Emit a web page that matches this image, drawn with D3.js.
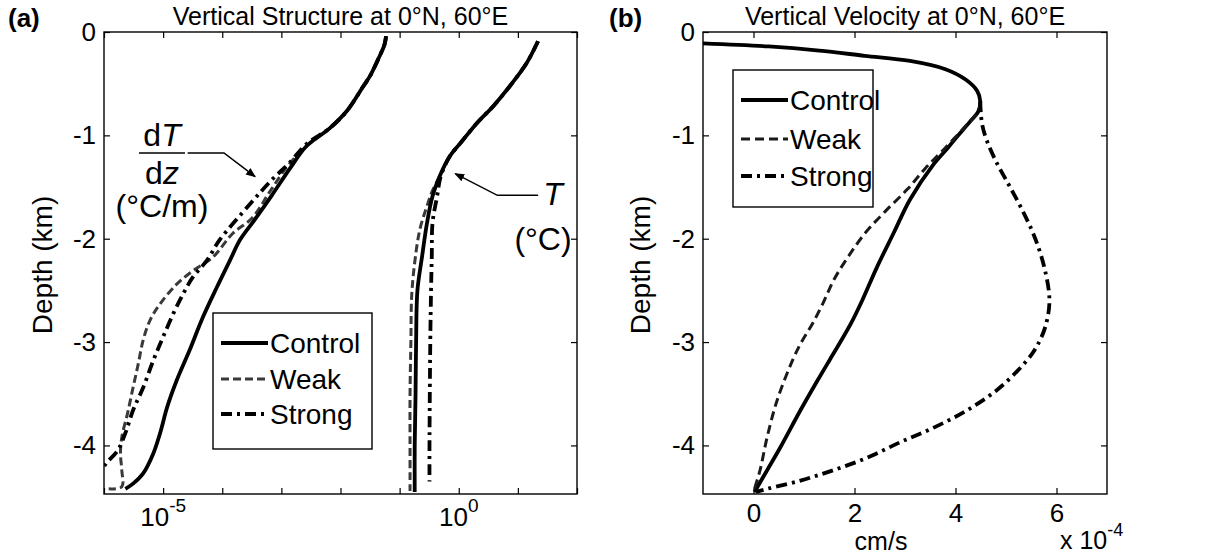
<!DOCTYPE html>
<html><head><meta charset="utf-8">
<script src="https://cdn.jsdelivr.net/npm/d3@7"></script>
<style>
body{margin:0;background:#fff}
text{font-family:"Liberation Sans",Arial,Helvetica,sans-serif;fill:#000}
</style>
</head><body>
<svg id="c" width="1217" height="554"></svg>
<script>
// ---------------- DATA ----------------
const seriesNames = ["Control", "Weak", "Strong"];
const depthTicks = [0, -1, -2, -3, -4];
const logTicks = [1e-6, 1e-5, 1e-4, 1e-3, 1e-2, 1e-1, 1e0, 1e1, 1e2];
const logTickLabels = [[1e-5, "-5"], [1e0, "0"]];
const velTicks = [0, 2, 4, 6];

// panel (a): dT/dz (°C/m) vs depth (km)  [depth, value]
const gradControl = [[-0.04,5.9e-2],[-0.13,5.5e-2],[-0.22,4.7e-2],[-0.42,3.2e-2],[-0.53,2.4e-2],[-0.76,1.3e-2],[-0.93,6.6e-3],[-1.11,2.6e-3],[-1.32,1.4e-3],[-1.58,6.9e-4],[-1.82,3.5e-4],[-2.01,2.0e-4],[-2.21,1.35e-4],[-2.47,8.1e-5],[-2.76,4.7e-5],[-3.08,2.8e-5],[-3.37,1.7e-5],[-3.63,1.17e-5],[-3.88,8.9e-6],[-4.08,6.8e-6],[-4.27,4.6e-6],[-4.37,3.1e-6],[-4.42,2.3e-6]];
const gradWeak = [[-0.04,5.9e-2],[-0.13,5.5e-2],[-0.22,4.7e-2],[-0.42,3.2e-2],[-0.53,2.4e-2],[-0.76,1.3e-2],[-0.93,6.6e-3],[-1.11,2.6e-3],[-1.30,1.26e-3],[-1.55,6.3e-4],[-1.80,3.2e-4],[-1.95,1.5e-4],[-2.18,6.9e-5],[-2.31,3.2e-5],[-2.44,1.7e-5],[-2.63,8.9e-6],[-2.79,6.0e-6],[-2.98,4.6e-6],[-3.21,3.8e-6],[-3.44,3.1e-6],[-3.69,2.5e-6],[-3.92,2.0e-6],[-4.08,1.9e-6],[-4.24,2.0e-6],[-4.40,2.0e-6],[-4.42,1.2e-6]];
const gradStrong = [[-0.04,5.9e-2],[-0.13,5.5e-2],[-0.22,4.7e-2],[-0.42,3.2e-2],[-0.53,2.4e-2],[-0.76,1.3e-2],[-0.93,6.6e-3],[-1.08,2.7e-3],[-1.27,1.35e-3],[-1.43,6.9e-4],[-1.66,3.0e-4],[-2.01,9.1e-5],[-2.21,5.5e-5],[-2.37,3.2e-5],[-2.53,2.2e-5],[-2.72,1.5e-5],[-2.95,1.0e-5],[-3.18,6.8e-6],[-3.44,4.6e-6],[-3.66,3.1e-6],[-3.88,2.3e-6],[-4.05,1.7e-6],[-4.17,1.1e-6],[-4.27,8.5e-7]];

// panel (a): T (°C) vs depth (km)
const tempControl = [[-0.09,21.9],[-0.30,14.1],[-0.52,7.4],[-0.72,3.8],[-0.88,2.04],[-1.08,1.05],[-1.20,0.71],[-1.39,0.48],[-1.59,0.36],[-1.85,0.29],[-2.17,0.24],[-2.50,0.20],[-3.00,0.19],[-3.50,0.186],[-4.00,0.18],[-4.45,0.18]];
const tempWeak = [[-0.09,21.9],[-0.30,14.1],[-0.52,7.4],[-0.72,3.8],[-0.88,2.04],[-1.08,1.05],[-1.20,0.71],[-1.39,0.48],[-1.55,0.35],[-1.66,0.30],[-1.91,0.22],[-2.23,0.18],[-2.55,0.16],[-3.00,0.155],[-3.50,0.15],[-4.00,0.15],[-4.44,0.15]];
const tempStrong = [[-0.09,21.9],[-0.30,14.1],[-0.52,7.4],[-0.72,3.8],[-0.88,2.04],[-1.08,1.05],[-1.20,0.71],[-1.39,0.50],[-1.59,0.43],[-1.85,0.36],[-2.17,0.35],[-2.50,0.34],[-3.00,0.33],[-4.00,0.32],[-4.35,0.32]];

// panel (b): vertical velocity (x 1e-4 cm/s) vs depth (km)
const velControl = [[-0.11,-1.0],[-0.14,0.3],[-0.18,1.3],[-0.23,2.2],[-0.28,3.1],[-0.36,3.8],[-0.46,4.2],[-0.57,4.43],[-0.67,4.49],[-0.77,4.45],[-0.86,4.3],[-1.03,4.0],[-1.12,3.85],[-1.29,3.55],[-1.62,3.1],[-1.94,2.78],[-2.27,2.45],[-2.60,2.15],[-2.82,1.93],[-3.00,1.72],[-3.18,1.50],[-3.37,1.27],[-3.66,0.93],[-4.02,0.53],[-4.24,0.27],[-4.45,0.02]];
const velWeak = [[-0.67,4.49],[-0.77,4.45],[-0.90,4.22],[-1.12,3.80],[-1.32,3.40],[-1.52,3.05],[-1.74,2.60],[-1.94,2.22],[-2.17,1.88],[-2.39,1.60],[-2.62,1.38],[-2.82,1.17],[-3.00,0.95],[-3.18,0.77],[-3.56,0.47],[-3.92,0.27],[-4.24,0.13],[-4.45,0.0]];
const velStrong = [[-0.67,4.49],[-0.77,4.50],[-0.90,4.53],[-1.05,4.62],[-1.25,4.80],[-1.50,5.08],[-1.75,5.35],[-2.00,5.58],[-2.30,5.77],[-2.60,5.86],[-2.85,5.78],[-3.05,5.60],[-3.18,5.41],[-3.44,4.88],[-3.66,4.23],[-3.83,3.56],[-3.97,2.90],[-4.12,2.25],[-4.24,1.58],[-4.34,0.93],[-4.42,0.27],[-4.45,0.05]];

// ---------------- LAYOUT ----------------
const svg = d3.select("#c");
const depthDomain = [-4.47, 0];
const A = {left:104, right:577, top:32, bottom:494};
const B = {left:703, right:1107, top:32, bottom:494};
const yA = d3.scaleLinear().domain(depthDomain).range([A.bottom, A.top]);
const xA = d3.scaleLog().domain([1e-6, 1e2]).range([A.left, A.right]);
const yB = d3.scaleLinear().domain(depthDomain).range([B.bottom, B.top]);
const xB = d3.scaleLinear().domain([-1, 7]).range([B.left, B.right]);

const stylesA = {
  Control: {dash: null, width: 3.8, color: "#000"},
  Weak:    {dash: "8,4", width: 3, color: "#3a3a3a"},
  Strong:  {dash: "11,5,3,5", width: 3.8, color: "#000"}
};
const stylesB = {
  Control: {dash: null, width: 3.8, color: "#000"},
  Weak:    {dash: "9,5", width: 3, color: "#1a1a1a"},
  Strong:  {dash: "11,5,3,5", width: 3.8, color: "#000"}
};

const defs = svg.append("defs");
defs.append("clipPath").attr("id","clipA").append("rect")
  .attr("x",A.left).attr("y",A.top).attr("width",A.right-A.left).attr("height",A.bottom-A.top);
defs.append("clipPath").attr("id","clipB").append("rect")
  .attr("x",B.left).attr("y",B.top).attr("width",B.right-B.left).attr("height",B.bottom-B.top);
defs.append("marker").attr("id","arrow").attr("viewBox","0 0 10 10").attr("refX",9).attr("refY",5)
  .attr("markerWidth",10).attr("markerHeight",10).attr("markerUnits","userSpaceOnUse").attr("orient","auto")
  .append("path").attr("d","M0,1 L10,5 L0,9 Z").attr("fill","#000");

function drawFrame(P){
  svg.append("rect").attr("x",P.left).attr("y",P.top).attr("width",P.right-P.left).attr("height",P.bottom-P.top)
    .attr("fill","none").attr("stroke","#000").attr("stroke-width",1.4);
}
function styleAxis(g){
  g.select(".domain").remove();
  g.selectAll(".tick line").attr("stroke","#000").attr("stroke-width",1.2);
  g.selectAll(".tick text").attr("font-size",26).attr("fill","#000")
   .style("font-family","'Liberation Sans',Arial,sans-serif");
}

// ----- Panel (a) axes -----
drawFrame(A);
svg.append("g").attr("transform",`translate(${A.left},0)`)
  .call(d3.axisLeft(yA).tickValues(depthTicks).tickSize(-6).tickPadding(8).tickFormat(d=>String(d)))
  .call(styleAxis);
svg.append("g").attr("transform",`translate(${A.right},0)`)
  .call(d3.axisRight(yA).tickValues(depthTicks).tickSize(-6).tickFormat(""))
  .call(styleAxis);
svg.append("g").attr("transform",`translate(0,${A.bottom})`)
  .call(d3.axisBottom(xA).tickValues(logTicks).tickSize(-6).tickFormat(""))
  .call(styleAxis);
svg.append("g").attr("transform",`translate(0,${A.top})`)
  .call(d3.axisTop(xA).tickValues(logTicks).tickSize(-6).tickFormat(""))
  .call(styleAxis);
// log tick labels with superscripts
logTickLabels.forEach(([v,ex])=>{
  const t = svg.append("text").attr("x", xA(v)).attr("y", 526).attr("text-anchor","middle").attr("font-size",26);
  t.append("tspan").text("10");
  t.append("tspan").attr("dy",-14).attr("font-size",19).text(ex);
});

// ----- Panel (b) axes -----
drawFrame(B);
svg.append("g").attr("transform",`translate(${B.left},0)`)
  .call(d3.axisLeft(yB).tickValues(depthTicks).tickSize(-6).tickPadding(8).tickFormat(d=>String(d)))
  .call(styleAxis);
svg.append("g").attr("transform",`translate(${B.right},0)`)
  .call(d3.axisRight(yB).tickValues(depthTicks).tickSize(-6).tickFormat(""))
  .call(styleAxis);
svg.append("g").attr("transform",`translate(0,${B.bottom})`)
  .call(d3.axisBottom(xB).tickValues(velTicks).tickSize(-6).tickPadding(10).tickFormat(d=>String(d)))
  .call(styleAxis);
svg.append("g").attr("transform",`translate(0,${B.top})`)
  .call(d3.axisTop(xB).tickValues(velTicks).tickSize(-6).tickFormat(""))
  .call(styleAxis);

// ----- Lines -----
function drawSeries(clip, xs, ys, data, s){
  const line = d3.line().x(d=>xs(d[1])).y(d=>ys(d[0])).curve(d3.curveCatmullRom.alpha(0.5));
  svg.append("path").datum(data).attr("clip-path",`url(#${clip})`)
    .attr("d",line).attr("fill","none").attr("stroke",s.color).attr("stroke-width",s.width)
    .attr("stroke-dasharray",s.dash).attr("stroke-linejoin","round");
}
const gradSeries = {Control: gradControl, Weak: gradWeak, Strong: gradStrong};
const tempSeries = {Control: tempControl, Weak: tempWeak, Strong: tempStrong};
const velSeries  = {Control: velControl, Weak: velWeak, Strong: velStrong};
["Weak","Strong","Control"].forEach(n=>{
  drawSeries("clipA", xA, yA, gradSeries[n], stylesA[n]);
  drawSeries("clipA", xA, yA, tempSeries[n], stylesA[n]);
});
["Control","Weak","Strong"].forEach(n=> drawSeries("clipB", xB, yB, velSeries[n], stylesB[n]));

// ----- Titles / labels -----
function txt(x,y,s,opts={}){
  const t = svg.append("text").attr("x",x).attr("y",y).attr("font-size",opts.size||25)
    .attr("text-anchor",opts.anchor||"middle").text(s);
  if(opts.bold) t.attr("font-weight","bold");
  if(opts.rotate) t.attr("transform",`rotate(-90,${x},${y})`);
  if(opts.italic) t.attr("font-style","italic");
  return t;
}
txt((A.left+A.right)/2, 25, "Vertical Structure at 0°N, 60°E", {size:25});
txt((B.left+B.right)/2, 25, "Vertical Velocity at 0°N, 60°E", {size:25});
txt(8, 27, "(a)", {size:26, bold:true, anchor:"start"});
txt(609, 27, "(b)", {size:26, bold:true, anchor:"start"});
txt(52, 265, "Depth (km)", {size:28, rotate:true});
txt(650, 265, "Depth (km)", {size:28, rotate:true});
txt(881, 550, "cm/s", {size:25});
const xl = svg.append("text").attr("x",1060).attr("y",549).attr("font-size",25).attr("text-anchor","start");
xl.append("tspan").text("x 10");
xl.append("tspan").attr("dy",-13).attr("font-size",18).text("-4");

// ----- Legends -----
function legend(x0,y0,w,h,rowY,st){
  svg.append("rect").attr("x",x0).attr("y",y0).attr("width",w).attr("height",h)
    .attr("fill","#fff").attr("stroke","#000").attr("stroke-width",1.4);
  seriesNames.forEach((n,i)=>{
    const s = st[n];
    const y = y0 + rowY[i];
    svg.append("line").attr("x1",x0+8).attr("x2",x0+55).attr("y1",y).attr("y2",y)
      .attr("stroke",s.color).attr("stroke-width",s.width).attr("stroke-dasharray",s.dash);
    svg.append("text").attr("x",x0+57).attr("y",y+10).attr("font-size",28).text(n);
  });
}
legend(213, 313, 159, 136, [30, 66, 101], stylesA);
legend(733, 70, 140, 137, [30, 69, 106], stylesB);

// ----- Annotations (a) -----
const fr = svg.append("g");
const fx = 162;
const tn = fr.append("text").attr("x",fx).attr("y",146).attr("font-size",32).attr("text-anchor","middle");
tn.append("tspan").text("d"); tn.append("tspan").attr("font-style","italic").text("T");
fr.append("line").attr("x1",139).attr("x2",185).attr("y1",153).attr("y2",153).attr("stroke","#000").attr("stroke-width",1.5);
const td = fr.append("text").attr("x",fx).attr("y",184).attr("font-size",32).attr("text-anchor","middle");
td.append("tspan").text("d"); td.append("tspan").attr("font-style","italic").text("z");
txt(162, 217, "(°C/m)", {size:32});
// arrow to dT/dz curves
const arrowA = [[-1.17,2.6e-5],[-1.17,1.07e-4],[-1.40,3.6e-4]];
svg.append("path").attr("d", d3.line().x(d=>xA(d[1])).y(d=>yA(d[0]))(arrowA))
  .attr("fill","none").attr("stroke","#000").attr("stroke-width",1.5).attr("marker-end","url(#arrow)");
// arrow to T curves
const arrowT = [[-1.58,22],[-1.58,4.5],[-1.37,0.87]];
svg.append("path").attr("d", d3.line().x(d=>xA(d[1])).y(d=>yA(d[0]))(arrowT))
  .attr("fill","none").attr("stroke","#000").attr("stroke-width",1.5).attr("marker-end","url(#arrow)");
txt(553, 205, "T", {size:32, italic:true});
txt(543, 250, "(°C)", {size:32});
</script>
</body></html>
